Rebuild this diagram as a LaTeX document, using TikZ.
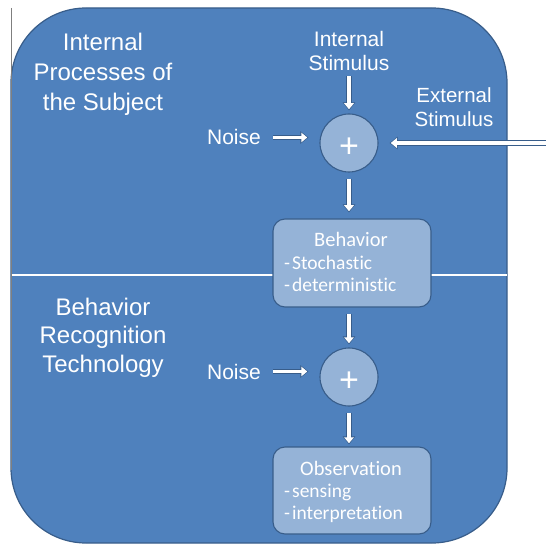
\documentclass[tikz,border=0pt]{standalone}
\usepackage{fontspec}
\setmainfont{Liberation Sans}
\newfontfamily\calib[Ligatures=NoCommon]{Carlito}
\usetikzlibrary{arrows.meta,calc}
\definecolor{mainblue}{HTML}{4F81BD}
\definecolor{lightblue}{HTML}{95B3D7}
\definecolor{edgeblue}{HTML}{385D8A}
\definecolor{framegray}{HTML}{7F7F7F}
\begin{document}
\begin{tikzpicture}[x=1pt,y=-1pt,
  lbl/.style={text=white, inner sep=0pt, font=\fontsize{21}{24}\selectfont},
  boxtxt/.style={text=white, inner sep=0pt},
  sumnode/.style={circle, draw=edgeblue, fill=lightblue, line width=1.1pt, minimum size=58pt, inner sep=0pt},
  stagebox/.style={rectangle, rounded corners=12pt, draw=edgeblue, fill=lightblue, line width=1.1pt, minimum width=158pt, minimum height=88pt, inner sep=0pt},
  wharrow/.style={draw=white, line width=3.6pt, -{Triangle[length=6pt,width=9.5pt]}, shorten >=1.2pt,
    preaction={draw=edgeblue, line width=5.4pt, -{Triangle[length=8pt,width=12pt]}, shorten >=0pt}}
]
\useasboundingbox (0,0) rectangle (546,545);
\node[draw=edgeblue, fill=mainblue, line width=1.2pt, rounded corners=75pt,
  minimum width=496pt, minimum height=535pt, inner sep=0pt] (frame) at (259,275.5) {};
\coordinate (gtop) at (11,8);
\coordinate (gbot) at (11,470);
\draw[framegray, line width=1pt] (gtop) -- (gbot);
\coordinate (divL) at (11.5,275.5);
\coordinate (divR) at (506.5,275.5);
\draw[white, line width=2pt] (divL) -- (divR);

% titles (base anchor = baseline of last line)
\node[lbl, font=\fontsize{24}{29.8}\selectfont, align=center, anchor=base] (title1) at (103,110.5) {Internal\\Processes of\\the Subject};
\node[lbl, font=\fontsize{24}{28.5}\selectfont, align=center, anchor=base] (title2) at (103,372) {Behavior\\Recognition\\Technology};

% labels
\node[lbl, align=center, anchor=base] (intstim) at (349,71) {Internal\\Stimulus};
\node[lbl, font=\fontsize{20.5}{24}\selectfont, align=center, anchor=base] (extstim) at (454,127) {External\\Stimulus};
\node[lbl, anchor=base east] (noise1) at (261,145) {Noise};
\node[lbl, anchor=base east] (noise2) at (261,379) {Noise};

% summing junctions
\node[sumnode] (sum1) at (349,143) {};
\node[sumnode] (sum2) at (349,377) {};
\node[lbl, font=\fontsize{34}{34}\selectfont] (plus1) at (349,148) {+};
\node[lbl, font=\fontsize{34}{34}\selectfont] (plus2) at (349,382) {+};

% boxes
\node[stagebox] (beh) at (352,263) {};
\node[stagebox, minimum height=87pt] (obs) at (352,490.5) {};
\node[boxtxt, font=\calib\fontsize{20.5}{22}\selectfont, anchor=base] (behT) at (351,247) {Behavior};
\node[boxtxt, font=\calib\fontsize{19.5}{22}\selectfont, align=left, anchor=base west] (behL) at (284,292) {-\hspace{2pt}Stochastic\\-\hspace{2pt}deterministic};
\node[boxtxt, font=\calib\fontsize{20.5}{22}\selectfont, anchor=base] (obsT) at (351,475) {Observation};
\node[boxtxt, font=\calib\fontsize{19.5}{22}\selectfont, align=left, anchor=base west] (obsL) at (284,519) {-\hspace{2pt}sensing\\-\hspace{2pt}interpretation};

% connectors
\coordinate (extsrc) at (546,143);
\draw[wharrow] ($(intstim.south)+(0,5)$) -- ($(sum1.north)+(0,-3)$);
\draw[wharrow] ($(sum1.south)+(0,6)$) -- ($(beh.north -| sum1.south)+(0,-6)$);
\draw[wharrow] ($(beh.south -| sum2.north)+(0,6)$) -- ($(sum2.north)+(0,-3)$);
\draw[wharrow] ($(sum2.south)+(0,6)$) -- ($(obs.north -| sum2.south)+(0,-2)$);
\draw[wharrow] ([xshift=12pt]noise1.east) -- ([xshift=-11pt]noise1.east -| sum1.west);
\draw[wharrow] ([xshift=12pt]noise2.east) -- ([xshift=-11pt]noise2.east -| sum2.west);
\draw[wharrow] (extsrc) -- ([xshift=11pt]sum1.east);
\end{tikzpicture}
\end{document}
